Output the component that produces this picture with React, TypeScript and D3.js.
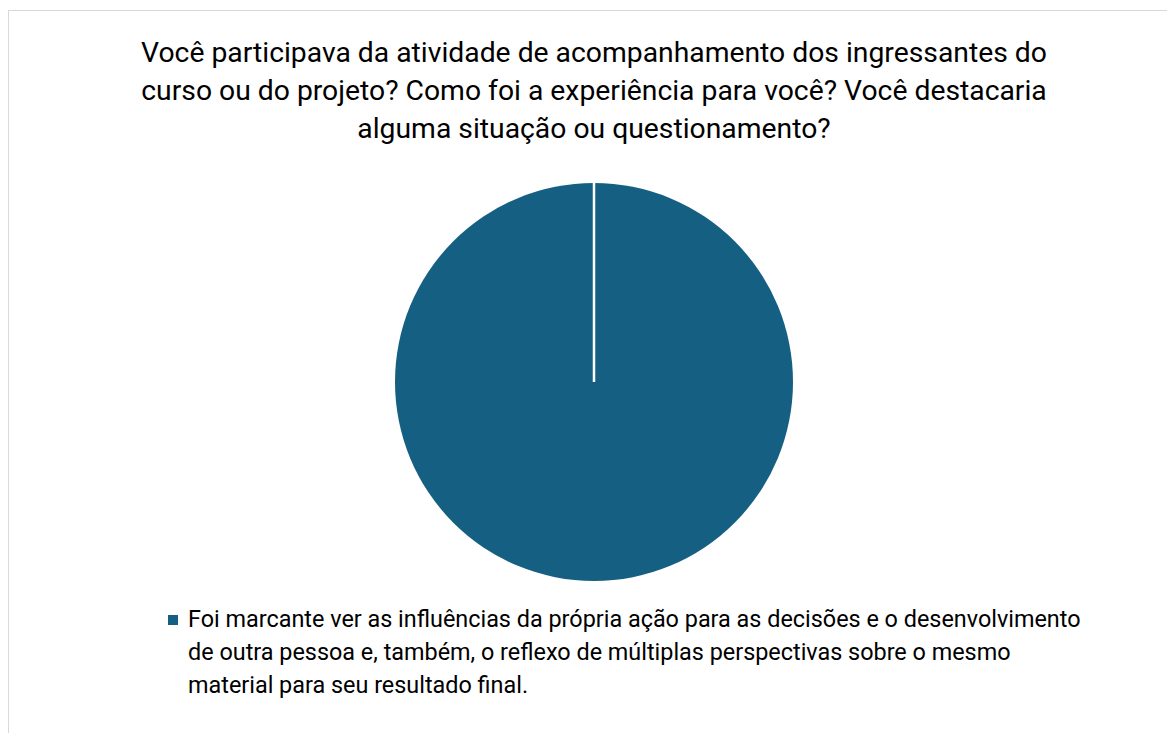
import React, { useEffect, useRef } from 'react';
import * as d3 from 'd3';

// chart data
const titleLines = [
  'Você participava da atividade de acompanhamento dos ingressantes do',
  'curso ou do projeto? Como foi a experiência para você? Você destacaria',
  'alguma situação ou questionamento?',
];
const categories = [
  'Foi marcante ver as influências da própria ação para as decisões e o desenvolvimento de outra pessoa e, também, o reflexo de múltiplas perspectivas sobre o mesmo material para seu resultado final.',
];
// how the legend label wraps in the picture
const legendLines = [
  'Foi marcante ver as influências da própria ação para as decisões e o desenvolvimento',
  'de outra pessoa e, também, o reflexo de múltiplas perspectivas sobre o mesmo',
  'material para seu resultado final.',
];
const values = [1];
const colors = ['#156082'];

const W = 1167;
const H = 733;

const App = () => {
  const ref = useRef<SVGSVGElement>(null);

  useEffect(() => {
    const svg = d3.select(ref.current);
    svg.selectAll('*').remove();

    const font = 'Roboto, "Noto Sans", sans-serif';

    // chart area frame
    svg.append('rect')
      .attr('x', 8.5)
      .attr('y', 10.5)
      .attr('width', W + 20)
      .attr('height', H + 20)
      .attr('fill', '#fff')
      .attr('stroke', '#d9d9d9')
      .attr('stroke-width', 1);

    // title
    const cx = 594;
    svg.append('g')
      .selectAll('text')
      .data(titleLines)
      .enter()
      .append('text')
      .attr('x', cx)
      .attr('y', (d, i) => 62 + i * 38)
      .attr('text-anchor', 'middle')
      .attr('font-family', font)
      .attr('font-size', 28.3)
      .attr('fill', '#000')
      .text(d => d);

    // pie
    const cy = 382;
    const r = 199;
    const pie = d3.pie<number>().sort(null)(values);
    const arc = d3.arc<d3.PieArcDatum<number>>().innerRadius(0).outerRadius(r);
    const g = svg.append('g').attr('transform', `translate(${cx},${cy})`);

    g.selectAll('path')
      .data(pie)
      .enter()
      .append('path')
      .attr('d', arc)
      .attr('fill', (d, i) => colors[i % colors.length]);

    // slice edges (white borders)
    g.selectAll('line')
      .data(pie)
      .enter()
      .append('line')
      .attr('x1', 0)
      .attr('y1', 0)
      .attr('x2', d => d3.pointRadial(d.startAngle, r)[0])
      .attr('y2', d => d3.pointRadial(d.startAngle, r)[1])
      .attr('stroke', '#fff')
      .attr('stroke-width', 2.5);

    // legend
    const legend = svg.append('g').attr('transform', 'translate(168,615)');
    legend.selectAll('rect')
      .data(categories)
      .enter()
      .append('rect')
      .attr('x', 0)
      .attr('y', 0)
      .attr('width', 10)
      .attr('height', 10)
      .attr('fill', (d, i) => colors[i % colors.length]);

    legend.append('text')
      .attr('font-family', font)
      .attr('font-size', 23.4)
      .attr('fill', '#000')
      .selectAll('tspan')
      .data(legendLines)
      .enter()
      .append('tspan')
      .attr('x', 20)
      .attr('y', (d, i) => 12 + i * 33)
      .text(d => d);
  }, []);

  return (
    <svg
      ref={ref}
      width={W}
      height={H}
      style={{ position: 'absolute', left: 0, top: 0, display: 'block' }}
    ></svg>
  );
};

export default App;
